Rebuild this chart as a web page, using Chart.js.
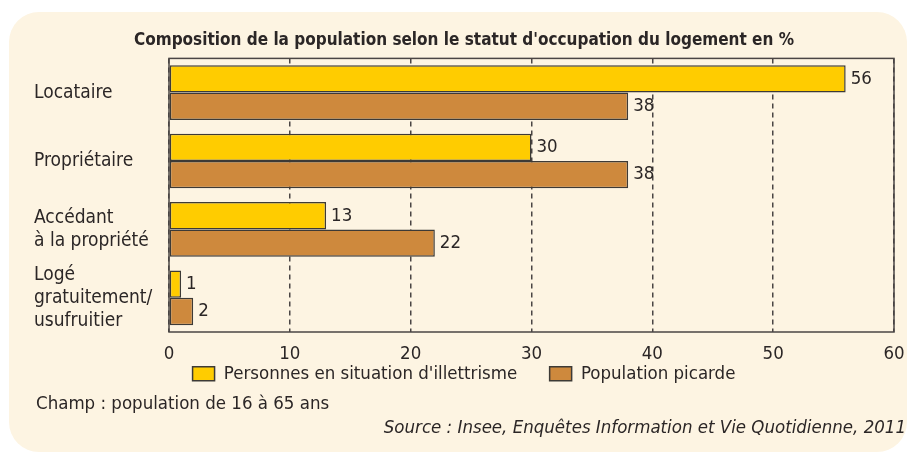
<!DOCTYPE html>
<html lang="fr">
<head>
<meta charset="utf-8">
<title>Statut d'occupation du logement</title>
<script src="https://cdn.jsdelivr.net/npm/chart.js@4.4.1/dist/chart.umd.min.js"></script>
<style>
  html, body { margin: 0; padding: 0; background: #fff; }
  #wrap { position: relative; width: 910px; height: 455px; overflow: hidden; }
  #panel {
    position: absolute; left: 9px; top: 12px; width: 898px; height: 440px;
    background: #fdf4e2; border-radius: 30px;
  }
  #chart { position: absolute; left: 0; top: 0; }
</style>
</head>
<body>
<div id="wrap">
  <div id="panel"></div>
  <canvas id="chart" width="910" height="455"></canvas>
</div>
<script>
var categories = [
  'Locataire',
  'Propriétaire',
  ['Accédant', 'à la propriété'],
  ['Logé', 'gratuitement/', 'usufruitier']
];
var illettrisme = [56, 30, 13, 1];
var picarde = [38, 38, 22, 2];
var xTicks = [0, 10, 20, 30, 40, 50, 60];

var FONT = "'DejaVu Sans Condensed', 'Liberation Sans Narrow', 'Roboto', sans-serif";
var INK = '#2b2626';
var SIZE = 18.5;

// plot frame drawn over the grid, under the bars
var frame = {
  id: 'frame',
  beforeDatasetsDraw: function(chart) {
    var a = chart.chartArea, ctx = chart.ctx;
    ctx.save();
    ctx.strokeStyle = '#4a4544';
    ctx.lineWidth = 1.5;
    ctx.strokeRect(a.left, a.top, a.right - a.left, a.bottom - a.top);
    ctx.restore();
  }
};

// value written just past the end of each bar
var valueLabels = {
  id: 'valueLabels',
  afterDatasetsDraw: function(chart) {
    var ctx = chart.ctx;
    ctx.save();
    ctx.font = SIZE + 'px ' + FONT;
    ctx.fillStyle = INK;
    ctx.textAlign = 'left';
    ctx.textBaseline = 'middle';
    chart.data.datasets.forEach(function(ds, i) {
      chart.getDatasetMeta(i).data.forEach(function(bar, j) {
        ctx.fillText(String(ds.data[j]), bar.x + 5, bar.y);
      });
    });
    ctx.restore();
  }
};

// field and source notes under the legend
var notes = {
  id: 'notes',
  afterDraw: function(chart) {
    var ctx = chart.ctx;
    ctx.save();
    ctx.fillStyle = INK;
    ctx.textBaseline = 'middle';
    ctx.font = SIZE + 'px ' + FONT;
    ctx.textAlign = 'left';
    ctx.fillText('Champ : population de 16 à 65 ans', 36, 404);
    ctx.font = 'italic ' + SIZE + 'px ' + FONT;
    ctx.textAlign = 'right';
    ctx.fillText('Source : Insee, Enquêtes Information et Vie Quotidienne, 2011', 906, 428);
    ctx.restore();
  }
};

new Chart(document.getElementById('chart'), {
  type: 'bar',
  data: {
    labels: categories,
    datasets: [{
      label: "Personnes en situation d'illettrisme",
      data: illettrisme,
      backgroundColor: '#ffcc00',
      borderColor: '#3d3a36',
      borderWidth: 1.5,
      borderSkipped: false,
      categoryPercentage: 0.8,
      barPercentage: 1
    }, {
      label: 'Population picarde',
      data: picarde,
      backgroundColor: '#ce893d',
      borderColor: '#3d3a36',
      borderWidth: 1.5,
      borderSkipped: false,
      categoryPercentage: 0.8,
      barPercentage: 1
    }]
  },
  options: {
    indexAxis: 'y',
    responsive: false,
    animation: false,
    layout: { padding: { left: 34, right: 16, top: 0, bottom: 62 } },
    plugins: {
      title: {
        display: true,
        text: "Composition de la population selon le statut d'occupation du logement en %",
        color: INK,
        font: { family: FONT, size: 17, weight: 'bold' },
        padding: { top: 30, bottom: 8 }
      },
      legend: {
        position: 'bottom',
        labels: {
          color: INK,
          font: { family: FONT, size: SIZE },
          boxWidth: 22,
          boxHeight: 14,
          padding: 32.5
        }
      },
      tooltip: { enabled: false }
    },
    scales: {
      y: {
        afterFit: function(scale) { scale.width = 135; },
        grid: { display: false },
        border: { display: false },
        ticks: {
          color: INK,
          autoSkip: false,
          crossAlign: 'far',
          font: { family: FONT, size: 19, lineHeight: 1.2 }
        }
      },
      x: {
        min: 0,
        max: 60,
        afterBuildTicks: function(scale) {
          scale.ticks = xTicks.map(function(v) { return { value: v }; });
        },
        // no height of its own: tick labels share the band above the legend items
        afterFit: function(scale) { scale.height = 0; },
        grid: { color: '#4a4544', lineWidth: 1.5, drawTicks: false },
        border: { display: false, dash: [5, 4] },
        ticks: {
          color: INK,
          mirror: true,
          padding: -33,
          maxRotation: 0,
          font: { family: FONT, size: SIZE }
        }
      }
    }
  },
  plugins: [frame, valueLabels, notes]
});
</script>
</body>
</html>
